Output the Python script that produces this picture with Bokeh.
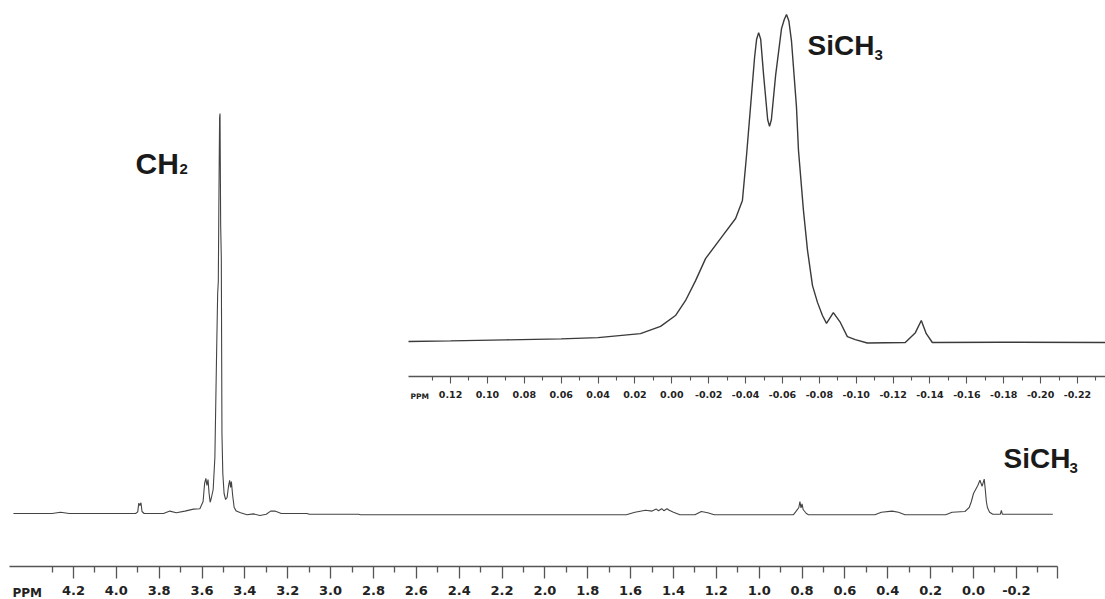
from bokeh.plotting import figure
from bokeh.models import Range1d, LinearAxis, FixedTicker, PrintfTickFormatter, Label
from bokeh.embed import file_html
from bokeh.resources import INLINE

# ---------------- data ----------------
main_ppm = [4.48, 4.30, 4.26, 4.22, 4.00, 3.91, 3.90, 3.895, 3.89, 3.885, 3.88, 3.87,
            3.78, 3.75, 3.72, 3.68, 3.64, 3.61, 3.595, 3.588, 3.582, 3.577, 3.572, 3.567,
            3.562, 3.556, 3.548, 3.54, 3.532, 3.527, 3.524, 3.521, 3.518, 3.516, 3.513,
            3.510, 3.507, 3.503, 3.497, 3.49, 3.483, 3.476, 3.471, 3.467, 3.463, 3.457,
            3.45, 3.44, 3.42, 3.39, 3.36, 3.33, 3.30, 3.28, 3.26, 3.23, 3.11, 3.10,
            2.87, 2.86, 1.62, 1.58, 1.53, 1.50, 1.48, 1.47, 1.455, 1.445, 1.43, 1.42,
            1.40, 1.37, 1.30, 1.27, 1.24, 1.21, 0.84, 0.83, 0.815, 0.81, 0.805, 0.80,
            0.795, 0.78, 0.77, 0.46, 0.43, 0.38, 0.35, 0.32, 0.13, 0.10, 0.04, 0.02,
            0.01, 0.0, -0.02, -0.03, -0.04, -0.05, -0.055, -0.06, -0.065, -0.075,
            -0.09, -0.125, -0.13, -0.135, -0.37]
main_int = [0, 0, 0.3, 0, 0, 0, 0.4, 2.6, 2.0, 2.7, 0.5, 0,
            0, 0.6, 0.2, 0.6, 1.1, 1.2, 3, 7.5, 8.8, 7, 8.5, 5,
            2.8, 4, 6, 14, 40, 55, 58, 80, 99, 100, 72,
            64, 20, 10, 5, 3.5, 4, 7, 8.3, 6.5, 8, 4.5,
            1.5, 0.6, 0.2, -0.3, -0.1, -0.5, -0.2, 0.6, 0.6, 0, 0, -0.2,
            -0.2, -0.3, -0.3, 0.3, 0.8, 0.6, 1.1, 0.7, 1.2, 0.7, 1.2, 0.8,
            0.3, -0.3, -0.3, 0.5, 0.2, -0.3, -0.3, 0.4, 1.5, 3.0, 1.4, 2.4,
            1.0, 0, -0.3, -0.3, 0.3, 0.6, 0.3, -0.3, -0.3, 0.3, 0.5, 1.5,
            3, 5, 7, 8.3, 6.8, 8.6, 6, 3, 1.5, 0.3,
            -0.2, -0.2, 0.8, -0.2, -0.2]

inset_ppm = [0.1428, 0.12, 0.09, 0.06, 0.04, 0.017, 0.0061, -0.002, -0.0074, -0.0129,
             -0.0183, -0.0264, -0.0346, -0.0383, -0.0405, -0.0427, -0.0449, -0.0460,
             -0.0471, -0.0482, -0.0498, -0.052, -0.053, -0.054, -0.0563, -0.0595, -0.061,
             -0.0622, -0.0635, -0.0649, -0.0676, -0.0687, -0.0714, -0.0736, -0.0763,
             -0.079, -0.0817, -0.0839, -0.0876, -0.0914, -0.0952, -0.0995, -0.106,
             -0.1266, -0.1321, -0.1353, -0.138, -0.1413, -0.178, -0.235]
inset_int = [0.6, 0.8, 1.1, 1.4, 1.8, 3.0, 5.2, 8.5, 13, 19.1,
             25.8, 31.9, 38, 43.5, 57, 72, 87, 92.5,
             94.5, 92.5, 81.5, 68, 66, 68, 81.5, 95.7, 98.5,
             100, 98, 92, 72, 58.7, 40.4, 28.3, 17.6,
             12.5, 8.5, 6.1, 9.4, 6.4, 2.1, 1.2, 0.15,
             0.3, 3.3, 7, 3, 0.3, 0.4, 0.3]

main_ticks = [4.2, 4.0, 3.8, 3.6, 3.4, 3.2, 3.0, 2.8, 2.6, 2.4, 2.2, 2.0, 1.8, 1.6,
              1.4, 1.2, 1.0, 0.8, 0.6, 0.4, 0.2, 0.0, -0.2, -0.39]
main_minor = [4.3, 4.1, 3.9, 3.7, 3.5, 3.3, 3.1, 2.9, 2.7, 2.5, 2.3, 2.1, 1.9, 1.7,
              1.5, 1.3, 1.1, 0.9, 0.7, 0.5, 0.3, 0.1, -0.1, -0.3]
inset_ticks = [0.12, 0.10, 0.08, 0.06, 0.04, 0.02, 0.0, -0.02, -0.04, -0.06, -0.08,
               -0.10, -0.12, -0.14, -0.16, -0.18, -0.20, -0.22]
inset_minor = [0.13, 0.11, 0.09, 0.07, 0.05, 0.03, 0.01, -0.01, -0.03, -0.05, -0.07,
               -0.09, -0.11, -0.13, -0.15, -0.17, -0.19, -0.21, -0.23]

# ---------------- layout calibration (page pixels) ----------------
W, H = 1105, 599
LEFT, RIGHT, TOP, BOTTOM = 0, W, 0, H
M_X0, M_SX = 973.0, 214.3      # main: px of 0 ppm, px per ppm
M_Y0, M_SY = 513.0, 4.0        # main: px of baseline, px per unit
I_X0, I_SX = 671.3, 1844.0     # inset
I_Y0, I_SY = 343.0, 3.29

p = figure(width=W, height=H, output_backend="svg", toolbar_location=None,
           x_axis_location=None, y_axis_location=None, min_border=0,
           x_range=Range1d((M_X0 - LEFT) / M_SX, (M_X0 - RIGHT) / M_SX),
           y_range=Range1d((M_Y0 - BOTTOM) / M_SY, (M_Y0 - TOP) / M_SY))
p.extra_x_ranges = {"ix": Range1d((I_X0 - LEFT) / I_SX, (I_X0 - RIGHT) / I_SX)}
p.extra_y_ranges = {"iy": Range1d((I_Y0 - BOTTOM) / I_SY, (I_Y0 - TOP) / I_SY)}
p.outline_line_color = None
p.grid.visible = False
p.background_fill_color = "white"
p.border_fill_color = "white"

p.line(main_ppm, main_int, line_color="#444444", line_width=1.1)
p.line(inset_ppm, inset_int, line_color="#3a3a3a", line_width=1.4,
       x_range_name="ix", y_range_name="iy")

# main axis
main_axis_y = (M_Y0 - 566) / M_SY
ax = LinearAxis(fixed_location=main_axis_y,
                ticker=FixedTicker(ticks=main_ticks, minor_ticks=main_minor),
                formatter=PrintfTickFormatter(format="%.1f"),
                bounds=(-0.39, 4.5))
ax.major_label_overrides = {-0.39: ""}
ax.axis_line_color = "#555555"
ax.axis_line_width = 1.5
ax.major_tick_line_color = "#555555"
ax.minor_tick_line_color = "#555555"
ax.major_tick_line_width = 1.3
ax.minor_tick_line_width = 1.3
ax.major_tick_out = 12
ax.major_tick_in = 0
ax.minor_tick_out = 6
ax.minor_tick_in = 0
ax.major_label_standoff = 7
ax.major_label_text_font = "DejaVu Sans"
ax.major_label_text_font_style = "bold"
ax.major_label_text_font_size = "13px"
ax.major_label_text_color = "#222222"
p.add_layout(ax, "below")

# inset axis
inset_axis_y = (I_Y0 - 376) / I_SY
ia = LinearAxis(fixed_location=inset_axis_y, x_range_name="ix", y_range_name="iy",
                ticker=FixedTicker(ticks=inset_ticks, minor_ticks=inset_minor),
                formatter=PrintfTickFormatter(format="%.2f"),
                bounds=(-0.236, 0.1428))
ia.axis_line_color = "#555555"
ia.axis_line_width = 1.3
ia.major_tick_line_color = "#555555"
ia.minor_tick_line_color = "#555555"
ia.major_tick_line_width = 1.1
ia.minor_tick_line_width = 1.1
ia.major_tick_out = 7
ia.major_tick_in = 0
ia.minor_tick_out = 4
ia.minor_tick_in = 0
ia.major_label_standoff = 7
ia.major_label_text_font = "DejaVu Sans"
ia.major_label_text_font_style = "bold"
ia.major_label_text_font_size = "9.5px"
ia.major_label_text_color = "#222222"
p.add_layout(ia, "below")

# "PPM" axis captions
p.add_layout(Label(x=(M_X0 - 12) / M_SX, y=main_axis_y - 19 / M_SY, text="PPM",
                   text_font="DejaVu Sans", text_font_style="bold", text_font_size="12px",
                   text_color="#222222", text_baseline="top", text_align="left"))
p.add_layout(Label(x=(I_X0 - 410) / I_SX, y=inset_axis_y - 15.5 / I_SY, text="PPM",
                   x_range_name="ix", y_range_name="iy",
                   text_font="DejaVu Sans", text_font_style="bold", text_font_size="7.5px",
                   text_color="#222222", text_baseline="top", text_align="left"))

# peak labels
def big(x, y, t, size, **kw):
    p.add_layout(Label(x=x, y=y, text=t, text_font="Liberation Sans", text_font_style="bold",
                       text_font_size=size, text_color="#1a1a1a",
                       text_baseline="alphabetic", text_align="left", **kw))

big((M_X0 - 135) / M_SX, (M_Y0 - 163) / M_SY, "CH", "30px")
big((M_X0 - 179) / M_SX, (M_Y0 - 168) / M_SY, "2", "15px")
big((M_X0 - 1003) / M_SX, (M_Y0 - 458) / M_SY, "SiCH", "28px")
big((M_X0 - 1069) / M_SX, (M_Y0 - 467) / M_SY, "3", "15px")
big((I_X0 - 807) / I_SX, (I_Y0 - 45) / I_SY, "SiCH", "28px", x_range_name="ix", y_range_name="iy")
big((I_X0 - 874) / I_SX, (I_Y0 - 54) / I_SY, "3", "15px", x_range_name="ix", y_range_name="iy")

open("out.html", "w").write(file_html(p, INLINE))
